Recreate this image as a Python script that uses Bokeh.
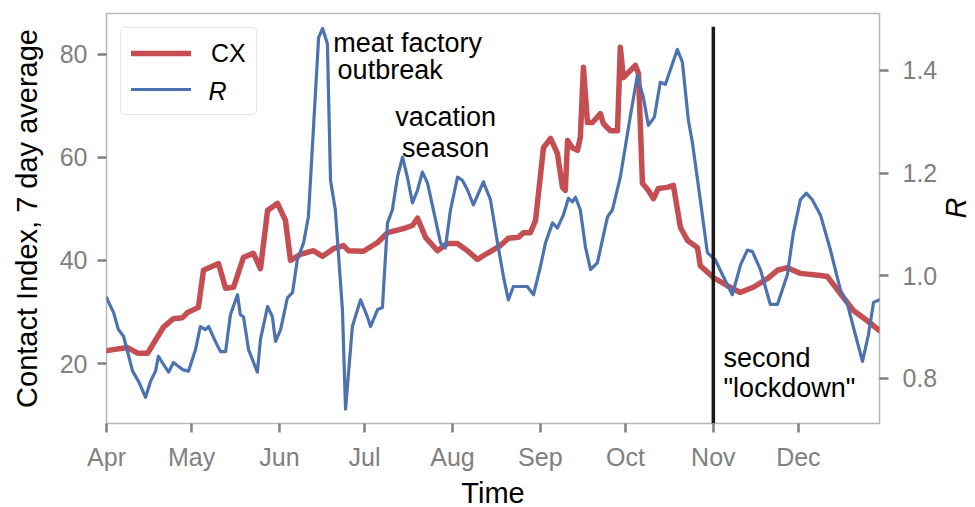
import math
import pandas as pd
from bokeh.plotting import figure
from bokeh.models import (Range1d, LinearAxis, FixedTicker, MonthsTicker,
                          DatetimeTickFormatter, Legend, LegendItem, Label,
                          NumeralTickFormatter)
from bokeh.embed import file_html
from bokeh.resources import INLINE

# ---------------- data ----------------
start_date = "2020-04-01"
end_day = 272.6

# Contact Index (7 day average), days since start_date
cx_day = [0, 7.4, 11, 14.5, 20, 23.6, 26.8, 28.6, 32.4, 34.2, 39.5, 42, 44.8, 48.3, 51.8,
          54.3, 56.8, 60.3, 63.1, 64.9, 68.4, 73, 76.2, 80, 83.6, 85.3, 90.6, 95.6, 99.1, 104.7,
          107.9, 109.7, 112.5, 116.7, 120.2, 123.7, 127.3, 130.8, 134.3, 138.9, 141.7, 145.3, 147,
          149.5, 151.3, 154.1, 156.6, 159, 160.8, 161.8, 162.6, 164.3, 166.1, 167.1, 168.2, 169.6,
          171.4, 174.2, 175.2, 177.7, 180.2, 181.2, 182.3, 186.5, 187.6, 189, 191.1, 192.9, 194.6,
          197.8, 199.9, 202.4, 204.9, 208.4, 209.4, 214, 218.9, 223.5, 228.1, 233.1, 236.6, 240.1,
          244.7, 251.8, 254.2, 258.8, 263.4, 268.3, 272.6]
cx_val = [22.5, 23.1, 22.0, 22.0, 27.0, 28.7, 28.9, 29.9, 30.9, 38.1, 39.4, 34.6, 34.8, 40.6, 41.4,
          38.4, 49.7, 51.1, 47.8, 40.0, 41.2, 41.9, 40.8, 42.3, 42.9, 41.9, 41.8, 43.5, 45.4, 46.2,
          46.8, 48.2, 44.5, 41.9, 43.3, 43.3, 41.9, 40.2, 41.4, 42.9, 44.3, 44.5, 45.4,
          45.4, 47.8, 61.9, 63.7, 60.8, 54.2, 53.6, 63.3, 61.9, 61.4, 63.9, 77.5, 66.8,
          66.8, 68.5, 66.6, 65.2, 65.2, 81.4, 75.5, 77.9, 76.3, 55.0, 53.6, 52.0, 54.0,
          54.2, 54.6, 46.4, 43.9, 42.5, 39.0, 36.7, 35.1, 33.8, 34.8, 36.5, 38.1, 38.6,
          37.5, 37.1, 36.9, 33.6, 30.3, 28.3, 26.4]

# Reproduction number R, days since start_date
r_day = [0, 2.5, 4.2, 6.0, 9.2, 11.3, 13.8, 15.5, 17.3, 18.3, 20.1, 21.9, 23.6, 26.8, 28.9, 31.4,
         33.1, 34.9, 36.0, 38.4, 40.2, 42.0, 43.7, 46.2, 47.2, 48.3, 50.1, 53.2, 54.3, 56.8, 58.5,
         59.6, 61.4, 63.8, 65.6, 67.3, 69.5, 71.2, 73.0, 74.8, 76.2, 77.9, 79.0, 80.7, 83.2, 84.3,
         86.7, 89.6, 92.0, 93.1, 95.6, 97.3, 99.1, 100.8, 102.6, 104.4, 106.1, 107.9, 109.7, 111.4,
         113.2, 115.3, 117.8, 119.5, 121.3, 123.8, 125.5, 127.3, 129.4, 132.9, 135.4, 137.9, 140.0,
         141.7, 143.5, 148.4, 150.6, 153.0, 154.8, 157.3, 159.0, 161.1, 162.9, 164.3, 165.4, 167.1,
         168.9, 170.7, 173.1, 176.7, 178.4, 181.2, 184.8, 187.2, 189.3, 191.1, 193.2, 195.3, 197.1,
         201.3, 203.1, 205.2, 206.6, 209.4, 211.9, 214.7, 217.2, 220.7, 223.6, 226.0, 227.8, 230.6,
         234.1, 236.6, 240.1, 242.2, 244.7, 246.8, 248.9, 251.8, 255.3, 258.8, 261.3, 264.1, 266.6,
         268.7, 270.5, 272.6]
r_val = [0.957, 0.928, 0.895, 0.882, 0.814, 0.794, 0.763, 0.794, 0.814, 0.843, 0.827, 0.812, 0.831,
         0.817, 0.814, 0.856, 0.901, 0.895, 0.901, 0.872, 0.852, 0.852, 0.924, 0.963, 0.924, 0.920,
         0.856, 0.812, 0.876, 0.940, 0.920, 0.872, 0.895, 0.957, 0.967, 1.031, 1.064, 1.115, 1.289,
         1.464, 1.482, 1.452, 1.186, 1.128, 0.934, 0.740, 0.901, 0.953, 0.920, 0.901, 0.934, 0.938,
         1.103, 1.128, 1.192, 1.231, 1.192, 1.142, 1.167, 1.202, 1.181, 1.128, 1.064, 1.054, 1.128,
         1.192, 1.186, 1.167, 1.138, 1.183, 1.148, 1.064, 0.998, 0.953, 0.979, 0.979, 0.963, 1.017,
         1.064, 1.103, 1.093, 1.118, 1.151, 1.144, 1.153, 1.128, 1.056, 1.012, 1.025, 1.115, 1.128,
         1.192, 1.313, 1.390, 1.348, 1.293, 1.309, 1.377, 1.373, 1.441, 1.416, 1.303, 1.260, 1.148,
         1.045, 1.031, 1.002, 0.963, 1.021, 1.050, 1.047, 1.012, 0.944, 0.944, 1.002, 1.083, 1.148,
         1.161, 1.148, 1.118, 1.050, 0.973, 0.944, 0.885, 0.833, 0.885, 0.948, 0.953]

left_ticks = [20, 40, 60, 80]
right_ticks = [0.8, 1.0, 1.2, 1.4]
left_range = (8.35, 87.96)
right_range = (0.712, 1.511)

lockdown_date = "2020-11-01"
lockdown_top = 85.4

# ---------------- figure ----------------
FONT = "Liberation Sans"
RED = "#c44e52"
BLUE = "#4c72b0"
GREY = "#808080"

t0 = pd.Timestamp(start_date)
cx_dates = t0 + pd.to_timedelta(cx_day, unit="D")
r_dates = t0 + pd.to_timedelta(r_day, unit="D")


def ms(day):
    ts = t0 + pd.Timedelta(days=day)
    return ts.value / 1e6


p = figure(x_axis_type="datetime", output_backend="svg", toolbar_location=None,
           frame_width=773, frame_height=410,
           x_range=Range1d(ms(0), ms(end_day)),
           y_range=Range1d(*left_range),
           min_border_left=106, min_border_right=90, min_border_top=13, min_border_bottom=76)
p.extra_y_ranges = {"r": Range1d(*right_range)}
p.grid.visible = False
p.outline_line_color = "#b8b8b8"
p.outline_line_width = 1.5
p.background_fill_color = "white"
p.border_fill_color = "white"

cx_r = p.line(cx_dates, cx_val, line_color=RED, line_width=5.5, line_join="round", line_cap="round")
r_r = p.line(r_dates, r_val, line_color=BLUE, line_width=3.2, line_join="round", line_cap="round",
             y_range_name="r")

ld = pd.Timestamp(lockdown_date).value / 1e6
p.segment(x0=[ld], y0=[left_range[0]], x1=[ld], y1=[lockdown_top], line_color="#1a1a1a", line_width=3.5)

raxis = LinearAxis(y_range_name="r", axis_label="R")
p.add_layout(raxis, "right")

p.xaxis.ticker = MonthsTicker(months=list(range(12)))
p.xaxis.formatter = DatetimeTickFormatter(months="%b", days="%b")
p.xaxis.axis_label = "Time"
p.yaxis[0].ticker = FixedTicker(ticks=left_ticks)
p.yaxis[0].axis_label = "Contact Index, 7 day average"
raxis.ticker = FixedTicker(ticks=right_ticks)
raxis.formatter = NumeralTickFormatter(format="0.0")
raxis.axis_label_text_font_style = "italic"

for ax in [p.xaxis[0], p.yaxis[0], raxis]:
    ax.axis_line_color = None
    ax.major_tick_line_color = GREY
    ax.major_tick_line_width = 2.5
    ax.major_tick_out = 9
    ax.major_tick_in = 0
    ax.minor_tick_line_color = None
    ax.major_label_text_color = GREY
    ax.major_label_text_font = FONT
    ax.major_label_text_font_size = "25px"
    ax.major_label_standoff = 10
    ax.axis_label_text_font = FONT
    ax.axis_label_text_font_size = "29px"
    ax.axis_label_text_color = "black"
    ax.axis_label_standoff = 8
p.yaxis[0].axis_label_text_font_style = "normal"
p.xaxis[0].axis_label_text_font_style = "normal"
p.yaxis[0].axis_label_standoff = 14
p.xaxis[0].axis_label_standoff = 3
raxis.major_label_standoff = 14
raxis.axis_label_standoff = 16
try:
    raxis.axis_label_orientation = math.pi / 2
except Exception:
    pass

# legend (R label drawn separately in italic, legend background transparent)
legend = Legend(items=[LegendItem(label="CX", renderers=[cx_r]),
                       LegendItem(label=" ", renderers=[r_r])],
                location=(14, 308))
legend.glyph_width = 60
legend.glyph_height = 30
legend.label_height = 30
legend.label_standoff = 20
legend.spacing = 6
legend.padding = 10
legend.margin = 0
legend.border_line_color = "#cccccc"
legend.border_line_width = 1.5
legend.background_fill_alpha = 0.0
legend.label_text_font = FONT
legend.label_text_font_size = "25px"
legend.label_text_color = "black"
try:
    legend.border_radius = 5
except Exception:
    pass
p.add_layout(legend)
p.add_layout(Label(x=102, y=333, x_units="screen", y_units="screen", text="R",
                   text_font=FONT, text_font_size="25px", text_font_style="italic",
                   text_baseline="middle", text_align="left", text_color="black"))

# annotations
ann = [("meat factory", 80.0, 82.3, "left"),
       ("outbreak", 81.5, 76.9, "left"),
       ("vacation", 119.6, 67.8, "center"),
       ("season", 119.6, 61.9, "center"),
       ("second", 217.6, 21.0, "left"),
       ('"lockdown"', 217.6, 15.3, "left")]
for txt, d, yv, al in ann:
    p.add_layout(Label(x=ms(d), y=yv, text=txt, text_font=FONT, text_font_size="27px",
                       text_align=al, text_baseline="alphabetic", text_color="black"))

open("out.html", "w").write(file_html(p, INLINE))
